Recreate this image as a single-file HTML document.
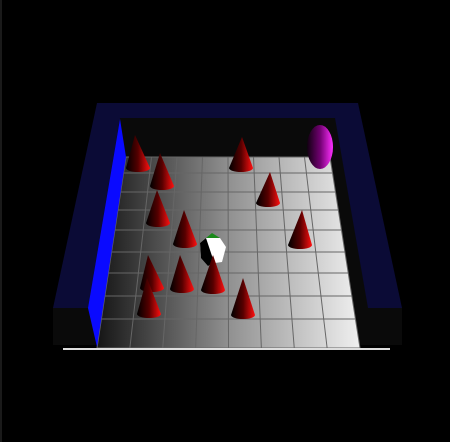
<!DOCTYPE html>
<html><head><meta charset="utf-8"><style>html,body{margin:0;padding:0;background:#000;width:450px;height:442px;overflow:hidden}</style></head>
<body>
<svg id="scene" width="450" height="442" viewBox="0 0 450 442" xmlns="http://www.w3.org/2000/svg">
<defs>
<linearGradient id="floorG" x1="0" x2="1" y1="0" y2="0"><stop offset="0" stop-color="#151515"/><stop offset="0.5" stop-color="#909090"/><stop offset="1" stop-color="#f0f0f0"/></linearGradient>
<linearGradient id="coneG" x1="0" x2="1" y1="0" y2="0"><stop offset="0" stop-color="#000"/><stop offset="0.5" stop-color="#500"/><stop offset="1" stop-color="#ff1010"/></linearGradient>
<linearGradient id="sphG" x1="0" x2="1"><stop offset="0" stop-color="#100010"/><stop offset="0.5" stop-color="#700070"/><stop offset="1" stop-color="#ff30ff"/></linearGradient>
</defs>
<rect x="0" y="0" width="450" height="442" fill="#000"/>
<line x1="1" y1="0" x2="1" y2="442" stroke="#333"/>
<polygon points="97,103 358,103 402,308 53,308" fill="#0b0b36"/>
<polygon points="53,308 402,308 402,345 53,345" fill="#0a0a0a"/>
<polygon points="120,118 335,118 368,308 88,308" fill="#0a0a0a"/>
<polygon points="126,157 330,157 360,348 97,348" fill="url(#floorG)"/>
<g id="grid"></g>
<line x1="63" y1="349" x2="390" y2="349" stroke="#ddd" stroke-width="2"/>
<polygon points="120,119 126,157 97,347 88,308" fill="#0a0aff"/>
<ellipse cx="320" cy="147" rx="13" ry="22" fill="url(#sphG)"/>
<g id="cones"></g>
</svg>
<script>
// Cone apex and base positions (scene coordinates)
const coneApexX = [135,160,242,270,157,184,302,148,180,213,147,243];
const coneApexY = [135,153,137,172,190,210,210,255,255,255,278,278];
const coneBaseX = [138,162,241,268,158,185,300,152,182,213,149,243];
const coneBaseY = [170,188,170,205,225,246,247,290,291,292,316,317];
const gridCols = 8, gridRows = 9;

const svg = document.getElementById('scene');
const NS = 'http://www.w3.org/2000/svg';
const grid = document.getElementById('grid');
const backL=126, backR=330, backY=157, frontL=97, frontR=360, frontY=348;
for (let i=0;i<=gridCols;i++){
  const t=i/gridCols;
  const l=document.createElementNS(NS,'line');
  l.setAttribute('x1',backL+(backR-backL)*t);l.setAttribute('y1',backY);
  l.setAttribute('x2',frontL+(frontR-frontL)*t);l.setAttribute('y2',frontY);
  l.setAttribute('stroke','#666');l.setAttribute('stroke-width','1');
  
  
  grid.appendChild(l);
}
const rowYs=[157,173,192,210,230,252,273,296,319,348];
for (let j=0;j<rowYs.length;j++){
  const y=rowYs[j], t=(y-backY)/(frontY-backY);
  const l=document.createElementNS(NS,'line');
  l.setAttribute('x1',backL+(frontL-backL)*t);l.setAttribute('y1',y);
  l.setAttribute('x2',backR+(frontR-backR)*t);l.setAttribute('y2',y);
  l.setAttribute('stroke','#666');l.setAttribute('stroke-width','1');
  
  
  grid.appendChild(l);
}
const cones=document.getElementById('cones');
function addCone(i){
  const ax=coneApexX[i], ay=coneApexY[i], bx=coneBaseX[i], by=coneBaseY[i], hw=12;
  const p=document.createElementNS(NS,'path');
  p.setAttribute('d',`M${ax},${ay} L${bx+hw},${by-2} A${hw},4 0 0 1 ${bx-hw},${by-2} Z`);
  p.setAttribute('fill','url(#coneG)');
  
  
  cones.appendChild(p);
}
for (let i=0;i<9;i++) addCone(i);
const cube=document.createElementNS(NS,'g');


cube.innerHTML='<polygon points="200,243 206,238 220,238 226,247 222,262 208,264 201,257" fill="#fff"/><polygon points="206,238 212,233 220,238" fill="#1a8a1a"/><polygon points="200,243 206,238 214,262 208,266 201,258" fill="#000"/>';
cones.appendChild(cube);
for (let i=9;i<coneApexX.length;i++) addCone(i);
</script>
</body></html>
